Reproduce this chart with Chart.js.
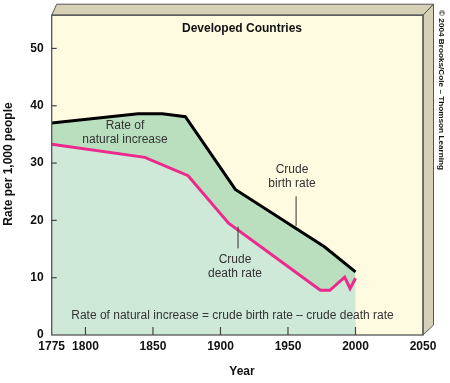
<!DOCTYPE html>
<html>
<head>
<meta charset="utf-8">
<script src="https://cdn.jsdelivr.net/npm/chart.js@4"></script>
<style>
html,body{margin:0;padding:0;background:#fff;}
#wrap{width:450px;height:383px;}
</style>
</head>
<body>
<div id="wrap"><canvas id="chart" width="450" height="383"></canvas></div>
<script>

// data
let birthYears=[1775,1839,1857,1874,1911,1977,2000];
let birthRates=[37.0,38.6,38.6,38.1,25.4,15.4,11.0];

let deathYears=[1775,1844,1876,1906,1974,1981,1992,1996,2000];
let deathRates=[33.3,31.0,27.8,19.5,7.8,7.8,10.1,8.1,9.9];

let xTicks=[1775,1800,1850,1900,1950,2000,2050];
let yTicks=[0,10,20,30,40,50];

let font="'Liberation Sans', Arial, sans-serif";

function points(xs,ys){
return xs.map(function(x,i){return {x:x,y:ys[i]};});
}

// background, 3d box and text
let boxPlugin={
id:"box",
beforeDatasetsDraw:function(chart){
let c=chart.ctx;
let a=chart.chartArea;
c.save();
c.fillStyle="#fffbe1";
c.fillRect(a.left,a.top,a.right-a.left,a.bottom-a.top);

// top face
c.fillStyle="#d6d0b6";
c.strokeStyle="#555";
c.lineWidth=1;
c.beginPath();
c.moveTo(a.left,a.top);
c.lineTo(a.left+5,a.top-11);
c.lineTo(a.right+10.5,a.top-11);
c.lineTo(a.right,a.top);
c.closePath();
c.fill();
c.stroke();

// right face
c.beginPath();
c.moveTo(a.right,a.top);
c.lineTo(a.right+10.5,a.top-11);
c.lineTo(a.right+10.5,a.bottom-10);
c.lineTo(a.right,a.bottom);
c.closePath();
c.fill();
c.stroke();
c.restore();
},
afterDatasetsDraw:function(chart){
let c=chart.ctx;
let a=chart.chartArea;
let xs=chart.scales.x;
let ys=chart.scales.y;
c.save();

// front frame
c.strokeStyle="#555";
c.lineWidth=1.3;
c.strokeRect(a.left,a.top,a.right-a.left,a.bottom-a.top);

// tick marks
c.lineWidth=1.2;
c.strokeStyle="#444";
yTicks.forEach(function(v){
if(v===0)return;
let y=ys.getPixelForValue(v);
c.beginPath();c.moveTo(a.left,y);c.lineTo(a.left+5,y);c.stroke();
});
xTicks.forEach(function(v){
if(v===1775||v===2050)return;
let x=xs.getPixelForValue(v);
c.beginPath();c.moveTo(x,a.bottom);c.lineTo(x,a.bottom-8);c.stroke();
});

// leader lines
c.strokeStyle="#333";
c.lineWidth=1;
c.beginPath();c.moveTo(xs.getPixelForValue(1956),ys.getPixelForValue(24.2));c.lineTo(xs.getPixelForValue(1956),ys.getPixelForValue(19.0));c.stroke();
c.beginPath();c.moveTo(xs.getPixelForValue(1913),ys.getPixelForValue(18.9));c.lineTo(xs.getPixelForValue(1913),ys.getPixelForValue(15.1));c.stroke();

c.textAlign="center";
c.textBaseline="middle";
c.fillStyle="#111";
c.font="bold 12px "+font;
c.fillText("Developed Countries",242,29);
c.fillText("Year",242,372);

c.save();
c.translate(9,164);
c.rotate(-Math.PI/2);
c.fillText("Rate per 1,000 people",0,0);
c.restore();

c.fillStyle="#333";
c.font="12px "+font;
c.fillText("Rate of",125,126);
c.fillText("natural increase",125,139.5);
c.fillText("Crude",292,169.5);
c.fillText("birth rate",292,183.5);
c.fillText("Crude",235,259.5);
c.fillText("death rate",235,274);
c.fillText("Rate of natural increase = crude birth rate \u2013 crude death rate",232.5,316);

// copyright
c.fillStyle="#111";
c.font="bold 8px "+font;
c.save();
c.translate(441,90);
c.rotate(Math.PI/2);
let txt="\u00a9 2004 Brooks/Cole \u2013 Thomson Learning";
let w=c.measureText(txt).width;
c.scale(160/w,1);
c.fillText(txt,0,0);
c.restore();

c.restore();
}
};

new Chart(document.getElementById("chart"),{

type:"line",

data:{
datasets:[{
label:"Crude death rate",
data:points(deathYears,deathRates),
borderColor:"#ec2a8c",
borderWidth:3,
backgroundColor:"#cfe9d9",
fill:"origin",
pointRadius:0,
tension:0
},{
label:"Crude birth rate",
data:points(birthYears,birthRates),
borderColor:"#000",
borderWidth:3,
backgroundColor:"#b9dfbf",
fill:"origin",
pointRadius:0,
tension:0
}]
},

options:{
responsive:false,
animation:false,
layout:{padding:{left:0,top:14,right:27,bottom:0}},
plugins:{
legend:{display:false},
tooltip:{enabled:false}
},
scales:{
x:{
type:"linear",
min:1775,
max:2050,
afterBuildTicks:function(s){s.ticks=xTicks.map(function(v){return {value:v};});},
afterFit:function(s){s.height=48;},
grid:{display:false,drawTicks:false},
border:{display:false},
ticks:{
color:"#111",
padding:4,
maxRotation:0,
autoSkip:false,
font:{family:font,size:12,weight:"bold"},
callback:function(v){return String(v);}
}
},
y:{
min:0,
max:55.8,
afterBuildTicks:function(s){s.ticks=yTicks.map(function(v){return {value:v};});},
afterFit:function(s){s.width=51.7;},
grid:{display:false,drawTicks:false},
border:{display:false},
ticks:{
color:"#111",
padding:8,
font:{family:font,size:12,weight:"bold"},
callback:function(v){return String(v);}
}
}
}
},

plugins:[boxPlugin]

});

</script>
</body>
</html>
